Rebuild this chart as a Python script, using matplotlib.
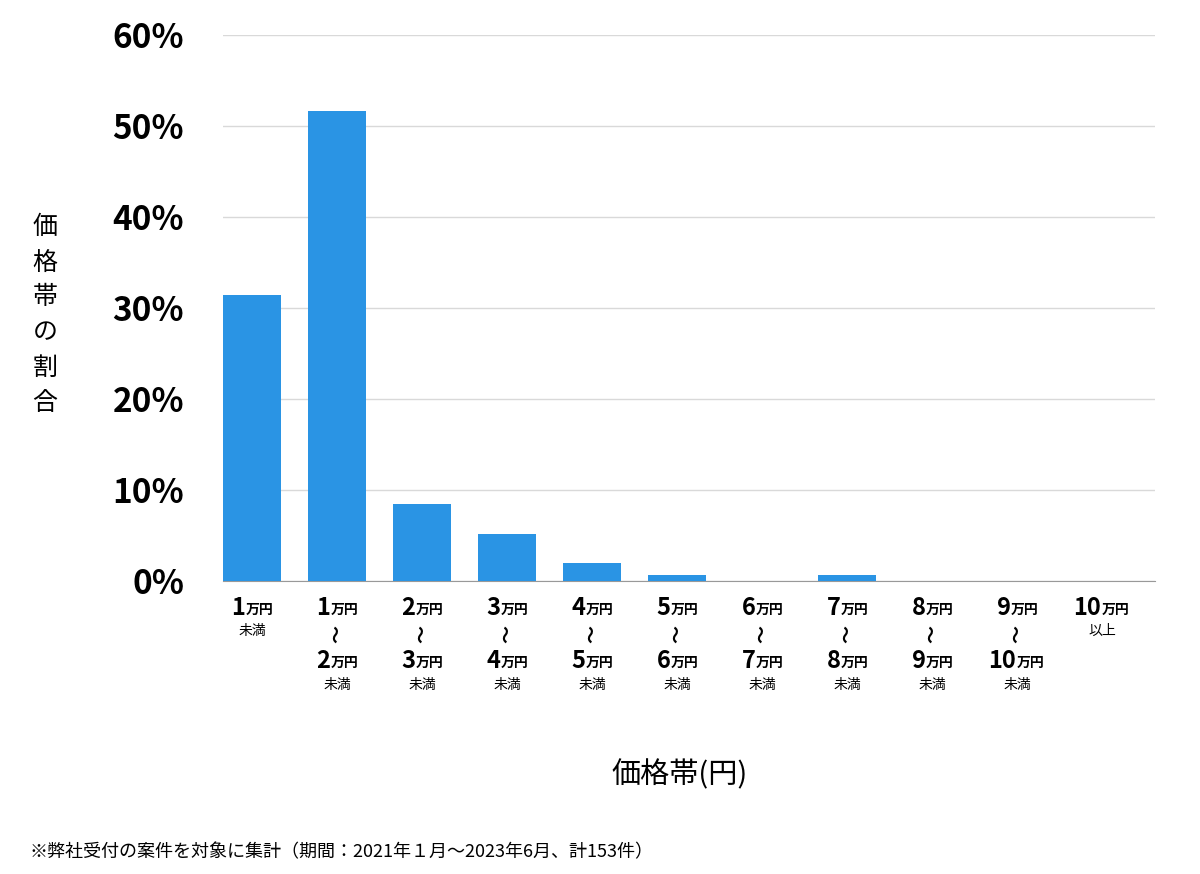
import matplotlib.pyplot as plt
from matplotlib import transforms

plt.rcParams["font.family"] = "Noto Sans CJK JP"

# 価格帯ごとの割合 (計153件)
lo = ["1", "1", "2", "3", "4", "5", "6", "7", "8", "9", "10"]
hi = [None, "2", "3", "4", "5", "6", "7", "8", "9", "10", None]
shares = [31.4, 51.6, 8.5, 5.2, 1.96, 0.65, 0.0, 0.65, 0.0, 0.0, 0.0]
yticks = [0, 10, 20, 30, 40, 50, 60]

fig = plt.figure(figsize=(12, 8.74), dpi=100)
ax = fig.add_axes([223 / 1200, 1 - 581 / 874, 932 / 1200, 546 / 874])

xs = list(range(len(shares)))
ax.bar(xs, shares, width=0.68, color="#2a94e4", zorder=3)
ax.set_xlim(-0.34, 10.62)
ax.set_ylim(0, 60)
ax.set_yticks(yticks)
ax.set_yticklabels([f"{v}%" for v in yticks], fontsize=24, fontweight="bold")
ax.tick_params(axis="y", length=0, pad=28)
ax.set_xticks([])
ax.grid(axis="y", color="#d9d9d9", linewidth=1, zorder=0)
for s in ["top", "right", "left"]:
    ax.spines[s].set_visible(False)
ax.spines["bottom"].set_color("#999999")

trans = transforms.blended_transform_factory(ax.transData, fig.transFigure)


def yfig(py):
    return 1 - py / 874


def price(x, py, num):
    # 数字は大きく、「万円」は小さく
    w = 11 * len(num) + 24
    split = -w / 2 + 11 * len(num)
    t1 = transforms.offset_copy(trans, fig=fig, x=split * 0.72, y=0, units="points")
    ax.text(x, yfig(py), num, transform=t1, ha="right", va="center",
            fontsize=17, fontweight="bold")
    ax.text(x, yfig(py + 2), "万円", transform=t1, ha="left", va="center",
            fontsize=10, fontweight="bold")


for x, a, b in zip(xs, lo, hi):
    price(x, 608, a)
    if b is None:
        ax.text(x, yfig(631), "未満" if x == 0 else "以上", transform=trans,
                ha="center", va="center", fontsize=10)
    else:
        ax.text(x, yfig(634), "〜", transform=trans, rotation=90,
                ha="center", va="center", fontsize=13, fontweight="bold")
        price(x, 661, b)
        ax.text(x, yfig(685), "未満", transform=trans,
                ha="center", va="center", fontsize=10)

fig.text(45 / 1200, yfig(315), "価\n格\n帯\nの\n割\n合", ha="center", va="center",
         fontsize=18, linespacing=1.45)
fig.text(680 / 1200, yfig(775), "価格帯(円)", ha="center", va="center", fontsize=21)
fig.text(30 / 1200, yfig(852), "※弊社受付の案件を対象に集計（期間：2021年１月〜2023年6月、計153件）",
         ha="left", va="center", fontsize=13)

fig.savefig("out.png", dpi=100)
